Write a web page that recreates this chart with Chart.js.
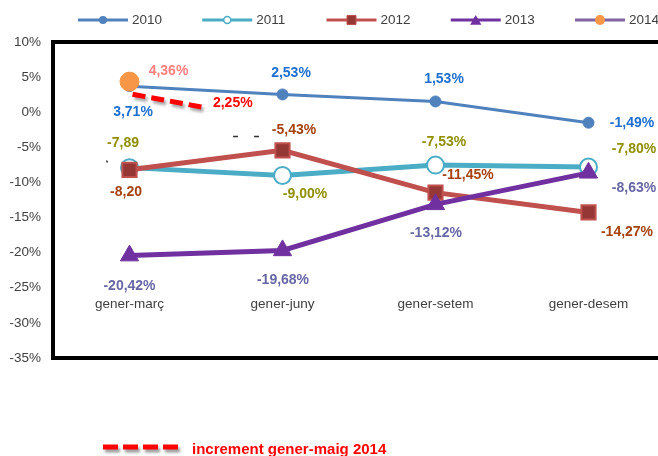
<!DOCTYPE html>
<html><head><meta charset="utf-8">
<script src="https://cdn.jsdelivr.net/npm/chart.js@4"></script>
<style>
html,body{margin:0;padding:0;background:#fff;overflow:hidden;width:658px;height:456px}
#wrap{width:658px;height:456px;overflow:hidden;position:relative}
#c{position:absolute;left:0;top:0;width:666px;height:456px;display:block}
</style></head>
<body><div id="wrap"><canvas id="c" width="666" height="456" style="width:666px;height:456px"></canvas></div>
<script>
// ---- data ----
const categories = ['gener-març', 'gener-juny', 'gener-setem', 'gener-desem'];
const seriesNames = ['2010', '2011', '2012', '2013', '2014'];
const values2010 = [3.71, 2.53, 1.53, -1.49];
const values2011 = [-7.89, -9.00, -7.53, -7.80];
const values2012 = [-8.20, -5.43, -11.45, -14.27];
const values2013 = [-20.42, -19.68, -13.12, -8.63];
const values2014 = [4.36, null, null, null];
const incrementName = 'increment gener-maig 2014';
const incrementValue = 2.25;
const incrementX = [0.02, 0.48];
const incrementY = [2.56, 0.71];
const yMin = -35, yMax = 10, yStep = 5;
// labels shown without a % sign in the original
const noPercent = [[], [0], [0], [], []];

// ---- styles ----
const FONT = '"Liberation Sans", Arial, Helvetica, sans-serif';
const labelColors = ['#1E6FCF', '#8F8F00', '#A5420F', '#6767A6', '#FF7F7F'];
const labelOffsets = [
  [[3.5, 26], [8.5, -21], [8.5, -22], [43.5, 0.5]],
  [[-6.5, -24], [22.5, 19], [8.5, -23], [45.5, -18]],
  [[-3.5, 22], [11.5, -20.5], [32.5, -17], [38.5, 20]],
  [[0, 30.5], [0.5, 30], [0.5, 29], [45.5, 15]],
  [[39, -10.5]]
];
const categoryLabelLevel = -27.35;
const AREA_LEFT = 53, AREA_RIGHT = 665;

const fmt = (v, pct) => v.toFixed(2).replace('.', ',') + (pct ? '%' : '');

function marker(ctx, style, x, y, r, fill, stroke, bw) {
  ctx.save();
  ctx.fillStyle = fill; ctx.strokeStyle = stroke; ctx.lineWidth = bw;
  ctx.beginPath();
  if (style === 'circle') {
    ctx.arc(x, y, r, 0, Math.PI * 2);
  } else if (style === 'rect') {
    ctx.rect(x - r, y - r, 2 * r, 2 * r);
  } else if (style === 'triangle') {
    ctx.moveTo(x, y - r);
    ctx.lineTo(x + 0.866 * r, y + 0.5 * r);
    ctx.lineTo(x - 0.866 * r, y + 0.5 * r);
    ctx.closePath();
  }
  ctx.fill();
  if (bw > 0) ctx.stroke();
  ctx.restore();
}

const legendSpecs = [
  {style: 'circle', r: 4, fill: '#4F81BD', stroke: '#4F81BD', bw: 0},
  {style: 'circle', r: 3.5, fill: '#FFFFFF', stroke: '#4BACC6', bw: 1.5},
  {style: 'rect', r: 4.5, fill: '#953735', stroke: '#C0504D', bw: 1},
  {style: 'triangle', r: 6.5, fill: '#7030A0', stroke: '#7030A0', bw: 0},
  {style: 'circle', r: 5, fill: '#F79646', stroke: '#F79646', bw: 0}
];

const decorPlugin = {
  id: 'decor',
  beforeDatasetDraw(chart, args) {
    if (args.index === 5) {
      const ctx = chart.ctx;
      ctx.save();
      ctx.shadowColor = 'rgba(0,0,0,0.35)';
      ctx.shadowOffsetX = 2; ctx.shadowOffsetY = 3; ctx.shadowBlur = 3;
    }
  },
  afterDatasetDraw(chart, args) {
    if (args.index === 5) chart.ctx.restore();
  },
  afterDraw(chart) {
    const ctx = chart.ctx;
    const a = chart.chartArea;
    // frame
    ctx.save();
    ctx.strokeStyle = '#000'; ctx.lineWidth = 4;
    ctx.strokeRect(a.left, a.top, a.right - a.left, a.bottom - a.top);
    ctx.restore();

    // small stray strokes present in the original picture
    ctx.save();
    ctx.strokeStyle = '#333'; ctx.lineWidth = 1.5;
    ctx.beginPath();
    ctx.moveTo(233, 136.5); ctx.lineTo(238, 136.5);
    ctx.moveTo(254, 136.5); ctx.lineTo(259, 136.5);
    ctx.moveTo(106.5, 160.5); ctx.lineTo(107.5, 162.5);
    ctx.stroke();
    ctx.restore();

    // category labels inside plot
    ctx.save();
    ctx.font = '13.5px ' + FONT; ctx.fillStyle = '#404040';
    ctx.textAlign = 'center'; ctx.textBaseline = 'middle';
    const ly = chart.scales.y.getPixelForValue(categoryLabelLevel);
    categories.forEach((c, i) => ctx.fillText(c, chart.scales.x.getPixelForValue(i), ly));
    ctx.restore();

    // data labels
    ctx.save();
    ctx.font = 'bold 14px ' + FONT;
    ctx.textAlign = 'center'; ctx.textBaseline = 'middle';
    for (let d = 0; d < 5; d++) {
      const meta = chart.getDatasetMeta(d);
      const vals = chart.data.datasets[d].data;
      ctx.fillStyle = labelColors[d];
      vals.forEach((v, i) => {
        if (v === null) return;
        const el = meta.data[i];
        const off = labelOffsets[d][i];
        ctx.fillText(fmt(v, !noPercent[d].includes(i)), el.x + off[0], el.y + off[1]);
      });
    }
    // increment label
    const im = chart.getDatasetMeta(5);
    const last = im.data[im.data.length - 1];
    ctx.fillStyle = '#FF0000';
    ctx.textAlign = 'left';
    ctx.fillText(fmt(incrementValue, true), last.x + 10, last.y - 4.5);
    ctx.restore();

    // top legend
    ctx.save();
    const ly2 = 20;
    seriesNames.forEach((n, i) => {
      const ds = chart.data.datasets[i];
      const x0 = 78 + i * 124.25;
      ctx.strokeStyle = ds.borderColor; ctx.lineWidth = 3;
      ctx.beginPath(); ctx.moveTo(x0, ly2); ctx.lineTo(x0 + 50, ly2); ctx.stroke();
      const s = legendSpecs[i];
      marker(ctx, s.style, x0 + 25, ly2 + (s.style === 'triangle' ? 1.5 : 0), s.r, s.fill, s.stroke, s.bw);
      ctx.font = '13.5px ' + FONT; ctx.fillStyle = '#404040';
      ctx.textAlign = 'left'; ctx.textBaseline = 'middle';
      ctx.fillText(n, x0 + 54, ly2 + 0.5);
    });
    ctx.restore();

    // bottom legend
    ctx.save();
    ctx.shadowColor = 'rgba(0,0,0,0.4)';
    ctx.shadowOffsetX = 2; ctx.shadowOffsetY = 3; ctx.shadowBlur = 3;
    ctx.strokeStyle = '#FF0000'; ctx.lineWidth = 5;
    ctx.setLineDash([15, 5]);
    ctx.beginPath(); ctx.moveTo(103, 447); ctx.lineTo(178, 447); ctx.stroke();
    ctx.restore();
    ctx.save();
    ctx.font = 'bold 15px ' + FONT; ctx.fillStyle = '#FF0000';
    ctx.textAlign = 'left'; ctx.textBaseline = 'alphabetic';
    ctx.fillText(incrementName, 192, 454);
    ctx.restore();
  }
};

const chart = new Chart(document.getElementById('c'), {
  type: 'line',
  data: {
    labels: categories,
    datasets: [
      {label: seriesNames[0], data: values2010, borderColor: '#4F81BD', borderWidth: 3,
       pointStyle: 'circle', pointRadius: 5.5, pointBackgroundColor: '#4F81BD', pointBorderColor: '#4F81BD', pointBorderWidth: 1, order: 5},
      {label: seriesNames[1], data: values2011, borderColor: '#4BACC6', borderWidth: 5,
       pointStyle: 'circle', pointRadius: 8.5, pointBackgroundColor: '#FFFFFF', pointBorderColor: '#4BACC6', pointBorderWidth: 2, order: 4},
      {label: seriesNames[2], data: values2012, borderColor: '#C0504D', borderWidth: 5,
       pointStyle: 'rect', pointRadius: 10, pointBackgroundColor: '#953735', pointBorderColor: '#C0504D', pointBorderWidth: 2, order: 3},
      {label: seriesNames[3], data: values2013, borderColor: '#7030A0', borderWidth: 5,
       pointStyle: 'triangle', pointRadius: 10.5, pointBackgroundColor: '#7030A0', pointBorderColor: '#7030A0', pointBorderWidth: 1, order: 2},
      {label: seriesNames[4], data: values2014, borderColor: '#8064A2', borderWidth: 3,
       pointStyle: 'circle', pointRadius: 9.5, pointBackgroundColor: '#F79646', pointBorderColor: '#F79646', pointBorderWidth: 1, order: 1},
      {label: incrementName, data: incrementX.map((x, i) => ({x: x, y: incrementY[i]})), xAxisID: 'xl',
       borderColor: '#FF0000', borderWidth: 5, borderDash: [13, 6], borderCapStyle: 'butt',
       pointRadius: 0, order: 0}
    ]
  },
  options: {
    responsive: false,
    animation: false,
    events: [],
    layout: {autoPadding: false, padding: {top: 42, bottom: 98, left: 0, right: 1}},
    plugins: {legend: {display: false}, tooltip: {enabled: false}},
    scales: {
      x: {type: 'category', display: false, offset: true},
      xl: {type: 'linear', display: false, min: -0.5, max: 3.5},
      y: {
        min: yMin, max: yMax,
        afterFit(scale) { scale.width = 53; },
        grid: {display: false, drawTicks: false},
        border: {display: false},
        ticks: {stepSize: yStep, padding: 12, color: '#404040',
                font: {family: FONT, size: 13.5},
                callback: v => v + '%'}
      }
    }
  },
  plugins: [decorPlugin]
});
// fine-tune the plot area so it matches the original frame
const dR = AREA_RIGHT - chart.chartArea.right;
const dL = AREA_LEFT - chart.chartArea.left;
if (Math.abs(dR) > 0.25 || Math.abs(dL) > 0.25) {
  chart.options.layout.padding = {top: 42, bottom: 98, left: dL, right: 1 - dR};
  chart.update();
}
</script>
</body></html>
